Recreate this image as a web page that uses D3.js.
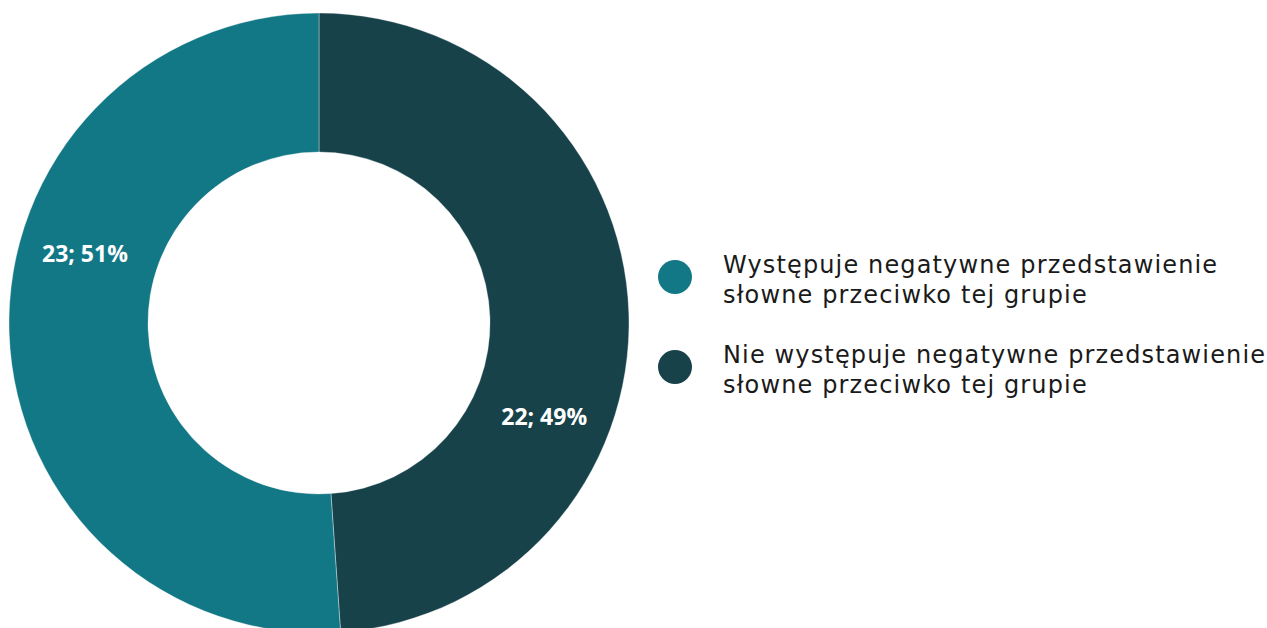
<!DOCTYPE html>
<html><head><meta charset="utf-8">
<script src="https://cdn.jsdelivr.net/npm/d3@7/dist/d3.min.js"></script>
<style>html,body{margin:0;padding:0;background:#fff;overflow:hidden}</style>
</head><body>
<svg id="c" width="1267" height="628"></svg>
<script>
const categories = ["Nie występuje negatywne przedstawienie słowne przeciwko tej grupie",
                    "Występuje negatywne przedstawienie słowne przeciwko tej grupie"];
const values = [22, 23];
const percents = ["49%", "51%"];
const colors = ["#17424a", "#127886"];
const legendOrder = [1, 0];
const legendLines = [["Występuje negatywne przedstawienie", "słowne przeciwko tej grupie"],
                     ["Nie występuje negatywne przedstawienie", "słowne przeciwko tej grupie"]];

const svg = d3.select("#c");
const cx = 319, cy = 323, rOuter = 310, rInner = 171;
const g = svg.append("g").attr("transform", `translate(${cx},${cy})`);

const pie = d3.pie().sort(null).value(d => d)(values);
const arc = d3.arc().innerRadius(rInner).outerRadius(rOuter);

g.selectAll("path").data(pie).join("path")
  .attr("d", arc)
  .attr("fill", (d, i) => colors[i])
  .attr("stroke", "#ffffff").attr("stroke-width", 0.6).attr("stroke-opacity", 0.6);

const labelFrac = [0.64, 0.6];
const labelR = 244;
g.selectAll("text.lbl").data(pie).join("text")
  .attr("class", "lbl")
  .attr("transform", (d, i) => {
    const a = d.startAngle + labelFrac[i] * (d.endAngle - d.startAngle);
    const p = d3.pointRadial(a, labelR);
    return `translate(${p[0]},${p[1]})`;
  })
  .attr("text-anchor", "middle").attr("dy", "0.35em")
  .attr("font-family", "'Open Sans', sans-serif").attr("font-weight", 700)
  .attr("font-size", 23).attr("fill", "#fff")
  .text((d, i) => `${values[i]}; ${percents[i]}`);

const lg = svg.append("g");
legendOrder.forEach((idx, k) => {
  const y0 = 277 + k * 90;
  lg.append("circle").attr("cx", 675).attr("cy", y0).attr("r", 17).attr("fill", colors[idx]);
  const t = lg.append("text")
    .attr("x", 723).attr("y", y0 - 4)
    .attr("font-family", "'DejaVu Sans', sans-serif").attr("font-size", 24)
    .attr("fill", "#1a1a1a");
  legendLines[k].forEach((ln, j) => {
    t.append("tspan").attr("x", 723).attr("dy", j === 0 ? 0 : 30).text(ln);
  });
});
// adjust letter spacing so the widest legend line matches the reference width
const tsp = lg.selectAll("tspan").nodes();
let widest = tsp[0];
tsp.forEach(n => { if (n.getComputedTextLength() > widest.getComputedTextLength()) widest = n; });
const ls = (542 - widest.getComputedTextLength()) / (widest.textContent.length - 1);
lg.selectAll("text").attr("letter-spacing", ls);
</script>
</body></html>
